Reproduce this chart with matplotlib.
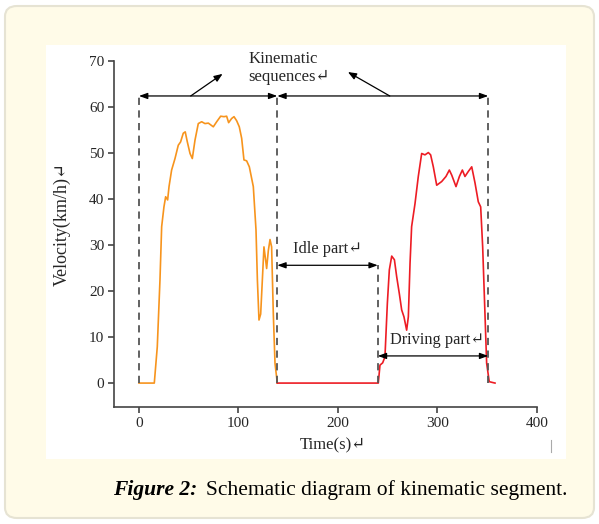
import numpy as np
import matplotlib
matplotlib.use("Agg")
import matplotlib.pyplot as plt
from matplotlib.patches import FancyBboxPatch, Rectangle

# first kinematic sequence (orange)
t_seq1 = [0, 15.4, 18.4, 21.1, 22.8, 25.1, 26.8, 28.8, 30.2, 32.8, 36.2, 39.5, 41.8,
          44.5, 46.5, 48.5, 51.3, 53.6, 56.3, 59.6, 63, 66.3, 69.7, 74.7, 78.1, 82.1,
          85.4, 88.1, 90.1, 93.1, 95.5, 98.2, 100.8, 103.2, 105.5, 108.2, 110.9, 114.9,
          117.6, 119, 120.6, 122.3, 124.3, 125.6, 127.3, 128.3, 130, 131.7, 133.3, 135,
          136.7, 139]
v_seq1 = [0, 0, 7.9, 22.4, 34, 38.3, 40.5, 39.8, 42.7, 46.3, 48.8, 51.7, 52.4,
          54.3, 54.6, 52.5, 49.9, 48.8, 52.8, 56.4, 56.8, 56.4, 56.5, 55.7, 56.8, 58,
          57.9, 58, 56.6, 57.5, 57.9, 57, 55.7, 53.2, 48.5, 48.3, 47, 42.7,
          33.3, 22.4, 13.7, 15, 23.8, 29.6, 26.7, 24.9, 28.8, 31.2, 29.6, 15.1,
          4.3, 0]

# idle part + second driving part (red)
t_seq2 = [139, 240.5, 242.2, 244.9, 247.2, 249.6, 251.6, 254, 256.7, 259, 261.6, 264,
          266.3, 269, 270.7, 272.4, 274, 277.4, 280.7, 284.1, 287.4, 290.8, 293.1,
          295.8, 299.2, 304.2, 308.5, 311.9, 314.3, 318.6, 322, 325, 327.6, 331,
          334.4, 337.7, 341, 343.4, 345.4, 347.7, 349.4, 352, 357.8]
v_seq2 = [0, 0, 3.9, 4.4, 5.7, 17.3, 24.6, 27.6, 26.8, 23.1, 19.5, 15.9,
          14.4, 11.5, 14.4, 26, 34, 39, 44.9, 49.9, 49.6, 50.1, 49.6,
          47, 43, 43.8, 44.9, 46.3, 45.2, 42.7, 44.9, 46.3, 44.9, 46,
          47, 43.5, 39.4, 38.3, 29.6, 15.1, 4.3, 0.3, 0]

# segment boundaries (s) and annotation levels (km/h)
bounds = [0, 139, 240, 351]
kin_level = 62.4
idle_level = 25.6
drive_level = 5.9

W, H = 599, 524


def fx(px):
    return px / W


def fy(py):
    return 1 - py / H


fig = plt.figure(figsize=(W / 100, H / 100), dpi=100)
fig.patch.set_facecolor("white")

# cream card with rounded border
card = FancyBboxPatch((fx(5), fy(518)), fx(589), 512 / H,
                      boxstyle="round,pad=0,rounding_size=0.02",
                      transform=fig.transFigure, facecolor="#fffbe8",
                      edgecolor="#e6e3d3", linewidth=1.5, zorder=-20)
fig.patches.append(card)
panel = Rectangle((fx(46), fy(459)), fx(520), 414 / H, transform=fig.transFigure,
                  facecolor="white", edgecolor="none", zorder=-10)
fig.patches.append(panel)

serif = ["Liberation Serif", "DejaVu Serif"]
tcol = "#262626"
scol = "#444444"

ax = fig.add_axes([fx(114), fy(407), fx(537) - fx(114), (407 - 61) / H])
ax.set_facecolor("none")
ax.set_xlim(-25.1, 400)
ax.set_ylim(-5.2, 70)

ax.plot(t_seq1, v_seq1, color="#f7941d", lw=1.2)
ax.plot(t_seq2, v_seq2, color="#ed1c24", lw=1.2)

dash = dict(color="#555555", lw=1.3, ls=(0, (4, 3)))
ax.plot([bounds[0]] * 2, [0, kin_level], **dash)
ax.plot([bounds[1]] * 2, [0, kin_level], **dash)
ax.plot([bounds[2]] * 2, [0, idle_level], **dash)
ax.plot([bounds[3]] * 2, [0, kin_level], **dash)

dbl = dict(arrowstyle="<|-|>,head_length=0.5,head_width=0.18", color="black",
           lw=0.9, shrinkA=0, shrinkB=0, mutation_scale=10)
one = dict(arrowstyle="-|>,head_length=0.5,head_width=0.2", color="black",
           lw=0.9, shrinkA=0, shrinkB=0, mutation_scale=10)
ax.annotate("", xy=(bounds[0], kin_level), xytext=(bounds[1], kin_level), arrowprops=dbl)
ax.annotate("", xy=(bounds[1], kin_level), xytext=(bounds[3], kin_level), arrowprops=dbl)
ax.annotate("", xy=(bounds[1], idle_level), xytext=(bounds[2], idle_level), arrowprops=dbl)
ax.annotate("", xy=(bounds[2], drive_level), xytext=(bounds[3], drive_level), arrowprops=dbl)
ax.annotate("", xy=(84, 67.2), xytext=(52, kin_level), arrowprops=one)
ax.annotate("", xy=(210, 67.6), xytext=(252, kin_level), arrowprops=one)

ax.text(144.7, 70.4, "Kinematic", family=serif, fontsize=12, color=tcol,
        ha="center", va="center", clip_on=False)
ax.text(150.7, 66.5, "sequences\u21b5", family=serif, fontsize=12, color=tcol,
        ha="center", va="center")
ax.text(189, 29.2, "Idle part\u21b5", family=serif, fontsize=11.8, color=tcol,
        ha="center", va="center")
ax.text(300, 9.3, "Driving part\u21b5", family=serif, fontsize=11.8, color=tcol,
        ha="center", va="center")

ax.set_xticks([0, 100, 200, 300, 400])
ax.set_yticks(range(0, 71, 10))
for s in ["top", "right"]:
    ax.spines[s].set_visible(False)
for s in ["left", "bottom"]:
    ax.spines[s].set_color(scol)
    ax.spines[s].set_linewidth(1.2)
ax.tick_params(direction="out", length=4, width=1.2, color=scol, labelcolor=tcol,
               labelsize=11, pad=3)
for lab in ax.get_xticklabels() + ax.get_yticklabels():
    lab.set_family(serif)

fig.text(fx(62), fy(224), "Velocity(km/h)\u21b5", family=serif, fontsize=13, color=tcol,
         rotation=90, ha="center", va="center")
fig.text(fx(333), fy(445), "Time(s)\u21b5", family=serif, fontsize=12, color=tcol,
         ha="center", va="center")
fig.lines.append(plt.Line2D([fx(551), fx(551)], [fy(440), fy(452)],
                            transform=fig.transFigure, color="#aaaaaa", lw=0.8))

fig.text(fx(113), fy(490), "Figure 2:", family=serif, fontsize=15.5, fontweight="bold",
         fontstyle="italic", color="black", ha="left", va="center")
fig.text(fx(206), fy(490), "Schematic diagram of kinematic segment.", family=serif,
         fontsize=15.5, color="black", ha="left", va="center")

fig.savefig("out.png", dpi=100, facecolor=fig.get_facecolor())
